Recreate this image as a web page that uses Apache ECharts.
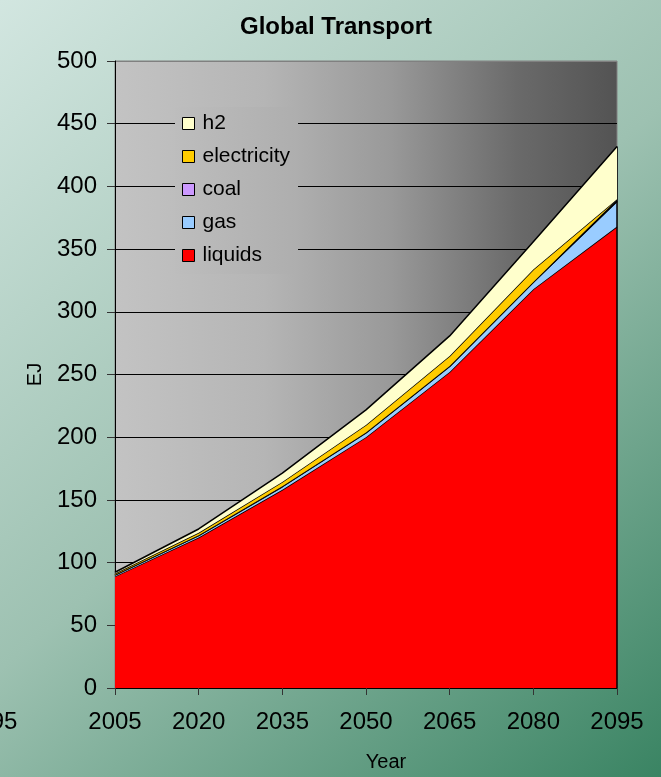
<!DOCTYPE html>
<html>
<head>
<meta charset="utf-8">
<title>Global Transport</title>
<script src="https://cdn.jsdelivr.net/npm/echarts@6/dist/echarts.min.js"></script>
<style>
  html, body { margin: 0; padding: 0; }
  #chart { width: 661px; height: 777px; }
</style>
</head>
<body>
<div id="chart"></div>
<script>
// Global transport final energy by carrier (EJ)
const years = ['2005', '2020', '2035', '2050', '2065', '2080', '2095'];
const liquids     = [89, 120, 158, 200, 252, 318, 368];
const gas         = [1, 1.5, 2.5, 3.5, 4.5, 5.5, 20];
const coal        = [0.3, 0.3, 0.3, 0.3, 0.3, 0.3, 0.3];
const electricity = [1, 2, 3.5, 6, 8, 10, 1.5];
const h2          = [1, 3, 7, 12, 16, 22, 42];
const yTicks = [0, 50, 100, 150, 200, 250, 300, 350, 400, 450, 500];

const FONT = 'Arial, "Liberation Sans", sans-serif';

// plot-area shading, left to right
const plotStops = [
  [0.00, [0xc3, 0xc3, 0xc3]],
  [0.30, [0xb5, 0xb5, 0xb5]],
  [0.55, [0x99, 0x99, 0x99]],
  [0.80, [0x6a, 0x6a, 0x6a]],
  [1.00, [0x53, 0x53, 0x53]]
];
function shadeAt(t) {
  for (let i = 1; i < plotStops.length; i++) {
    const [t0, c0] = plotStops[i - 1], [t1, c1] = plotStops[i];
    if (t <= t1) {
      const f = (t - t0) / (t1 - t0);
      const c = c0.map((v, k) => Math.round(v + (c1[k] - v) * f));
      return 'rgb(' + c.join(',') + ')';
    }
  }
  return 'rgb(' + plotStops[plotStops.length - 1][1].join(',') + ')';
}
const grid = { left: 115, right: 44, top: 61, bottom: 89 };
const plotW = 661 - grid.left - grid.right;
const legendLeft = 175, legendRight = 297;
const lt0 = (legendLeft - grid.left) / plotW;
const lt1 = (legendRight - grid.left) / plotW;

const plotGradient = new echarts.graphic.LinearGradient(0, 0, 1, 0,
  plotStops.map(([t, c]) => ({ offset: t, color: 'rgb(' + c.join(',') + ')' })));
const legendGradient = new echarts.graphic.LinearGradient(0, 0, 1, 0, [
  { offset: 0, color: shadeAt(lt0) },
  { offset: 1, color: shadeAt(lt1) }
]);

const palette = {
  liquids: '#ff0000',
  gas: '#99ccff',
  coal: '#cc99ff',
  electricity: '#ffcc00',
  h2: '#ffffcc'
};
const seriesDefs = [
  ['liquids', liquids],
  ['gas', gas],
  ['coal', coal],
  ['electricity', electricity],
  ['h2', h2]
];
const totals = years.map((_, i) => seriesDefs.reduce((s, d) => s + d[1][i], 0));
const lastYear = years[years.length - 1];

const series = seriesDefs.map(([name, values], idx) => ({
  name,
  type: 'line',
  stack: 'total',
  data: values,
  showSymbol: false,
  symbol: 'none',
  smooth: false,
  lineStyle: { color: '#000', width: 1.5 },
  itemStyle: { color: palette[name] },
  areaStyle: { color: palette[name], opacity: 1 },
  z: 2 + idx,
  silent: true,
  markLine: idx === seriesDefs.length - 1 ? {
    silent: true,
    symbol: 'none',
    label: { show: false },
    lineStyle: { color: '#000', width: 1.5, type: 'solid' },
    data: [[{ coord: [lastYear, 0] }, { coord: [lastYear, totals[totals.length - 1]] }]]
  } : undefined
}));

const chart = echarts.init(document.getElementById('chart'), null, { renderer: 'canvas' });
chart.setOption({
  animation: false,
  backgroundColor: new echarts.graphic.LinearGradient(0, 0, 1, 1, [
    { offset: 0, color: '#d2e6e0' },
    { offset: 0.5, color: '#9dc1b1' },
    { offset: 1, color: '#3a8463' }
  ]),
  title: {
    text: 'Global Transport',
    left: 240,
    top: 15,
    padding: 0,
    textStyle: { fontFamily: FONT, fontSize: 24, fontWeight: 'bold', color: '#000' }
  },
  legend: {
    orient: 'vertical',
    left: legendLeft,
    top: 107,
    padding: [6, 8, 8, 7],
    backgroundColor: legendGradient,
    icon: 'rect',
    itemWidth: 12,
    itemHeight: 12,
    itemGap: 12,
    textStyle: { fontFamily: FONT, fontSize: 21, color: '#000', padding: [0, 0, 0, 3] },
    itemStyle: { borderColor: '#000', borderWidth: 1 },
    selectedMode: false,
    data: ['h2', 'electricity', 'coal', 'gas', 'liquids'].map(n => ({
      name: n,
      itemStyle: { color: palette[n], borderColor: '#000', borderWidth: 1 }
    }))
  },
  grid: {
    ...grid,
    outerBoundsMode: 'none',
    containLabel: false,
    show: true,
    backgroundColor: plotGradient,
    borderColor: '#808080',
    borderWidth: 1
  },
  xAxis: {
    type: 'category',
    data: years,
    boundaryGap: false,
    name: 'Year',
    nameLocation: 'middle',
    nameGap: 64,
    nameTextStyle: { fontFamily: FONT, fontSize: 20, color: '#000', padding: [0, 0, 0, 40] },
    axisLine: { lineStyle: { color: '#000', width: 1 } },
    axisTick: { show: true, length: 7, lineStyle: { color: '#333' } },
    axisLabel: { fontFamily: FONT, fontSize: 24, color: '#000', margin: 22 },
    splitLine: { show: false }
  },
  yAxis: {
    type: 'value',
    min: 0,
    max: 500,
    interval: 50,
    name: 'EJ',
    nameLocation: 'middle',
    nameGap: 70,
    nameTextStyle: { fontFamily: FONT, fontSize: 20, color: '#000' },
    axisLine: { show: true, lineStyle: { color: '#000', width: 1 } },
    axisTick: { show: true, length: 8, lineStyle: { color: '#333' } },
    axisLabel: {
      fontFamily: FONT, fontSize: 24, color: '#000', margin: 18,
      formatter: v => (yTicks.includes(v) ? String(v) : '')
    },
    splitLine: {
      show: true,
      lineStyle: {
        color: yTicks.map((v, i) => (i === yTicks.length - 1 ? '#808080' : '#000')),
        width: 1
      }
    }
  },
  graphic: [{
    // category label spilling in at the left edge
    type: 'text',
    left: -36,
    top: 710,
    style: { text: '2095', font: '24px ' + FONT, fill: '#000' },
    silent: true
  }],
  series
});
</script>
</body>
</html>
